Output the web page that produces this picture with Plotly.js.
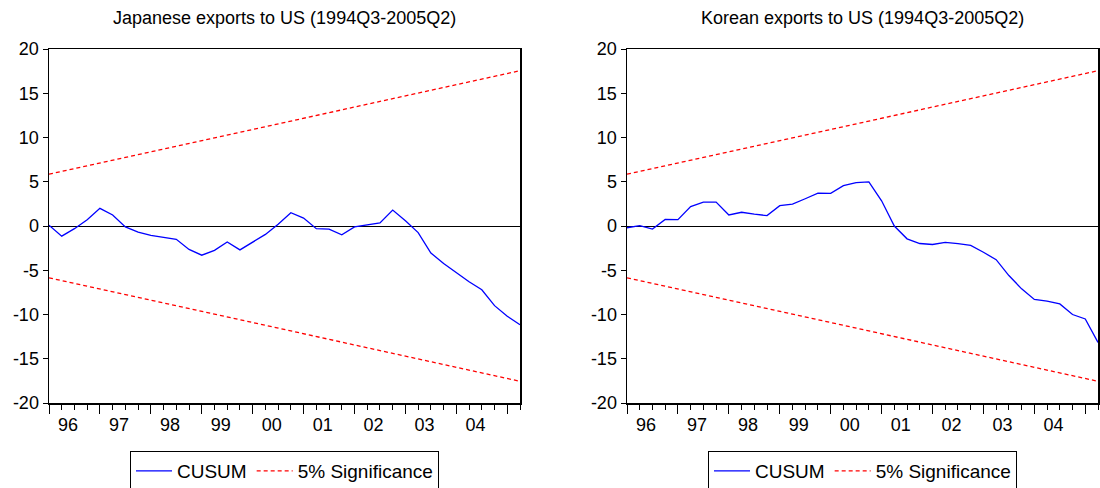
<!DOCTYPE html>
<html>
<head>
<meta charset="utf-8">
<script src="https://cdn.plot.ly/plotly-3.0.1.min.js"></script>
<style>html,body{margin:0;padding:0;background:#fff;}</style>
</head>
<body>
<div id="chart" style="width:1100px;height:488px;"></div>
<script>
// ---- data ----
const quarters = [
  '1996Q1','1996Q2','1996Q3','1996Q4','1997Q1','1997Q2','1997Q3','1997Q4',
  '1998Q1','1998Q2','1998Q3','1998Q4','1999Q1','1999Q2','1999Q3','1999Q4',
  '2000Q1','2000Q2','2000Q3','2000Q4','2001Q1','2001Q2','2001Q3','2001Q4',
  '2002Q1','2002Q2','2002Q3','2002Q4','2003Q1','2003Q2','2003Q3','2003Q4',
  '2004Q1','2004Q2','2004Q3','2004Q4','2005Q1','2005Q2'
];
const yearLabels = ['96','97','98','99','00','01','02','03','04'];
const jpCusum = [0.1, -1.15, -0.3, 0.7, 2.0, 1.25, -0.1, -0.7, -1.05, -1.3,
  -1.5, -2.65, -3.3, -2.75, -1.8, -2.7, -1.8, -0.95, 0.2, 1.5,
  0.9, -0.3, -0.35, -1.0, -0.1, 0.1, 0.35, 1.8, 0.6, -0.75,
  -3.05, -4.25, -5.3, -6.3, -7.2, -9.0, -10.2, -11.15];
const krCusum = [-0.2, 0.05, -0.35, 0.75, 0.72, 2.2, 2.7, 2.7, 1.25, 1.55,
  1.33, 1.18, 2.3, 2.47, 3.08, 3.72, 3.69, 4.56, 4.9, 4.98,
  2.85, 0.0, -1.45, -1.98, -2.09, -1.86, -2.0, -2.2, -2.97, -3.8,
  -5.6, -7.1, -8.3, -8.48, -8.8, -10.0, -10.5, -13.15];
const sigUpper = [5.85, 17.55];   // at first and last quarter
const sigLower = [-5.85, -17.55];
const yTicks = [20, 15, 10, 5, 0, -5, -10, -15, -20];
const jpTitle = 'Japanese exports to US (1994Q3-2005Q2)';
const krTitle = 'Korean exports to US (1994Q3-2005Q2)';

// ---- derived positions ----
const xi = quarters.map((_, i) => i);
const last = quarters.length - 1;
const yearStarts = xi.filter(i => quarters[i].endsWith('Q1'));
const labelPos = yearStarts.slice(0, yearLabels.length).map(i => i + 1.5);

const FONT = 'Liberation Sans, Arial, sans-serif';
const BLUE = '#0000ff', RED = '#ff0000';

function panel(cusum, xa, ya, leg) {
  return [
    {x: xi, y: cusum, type: 'scatter', mode: 'lines', name: 'CUSUM',
     line: {color: BLUE, width: 1.3}, xaxis: xa, yaxis: ya, legend: leg, hoverinfo: 'skip'},
    {x: [0, last], y: sigUpper, type: 'scatter', mode: 'lines', name: '5% Significance',
     line: {color: RED, width: 1.3, dash: '4px,3px'}, xaxis: xa, yaxis: ya, legend: leg,
     legendgroup: leg + 'sig', hoverinfo: 'skip'},
    {x: [0, last], y: sigLower, type: 'scatter', mode: 'lines', name: '5% Significance',
     line: {color: RED, width: 1.3, dash: '4px,3px'}, xaxis: xa, yaxis: ya, legend: leg,
     legendgroup: leg + 'sig', showlegend: false, hoverinfo: 'skip'}
  ];
}

const traces = [].concat(
  panel(jpCusum, 'x', 'y', 'legend'),
  panel(krCusum, 'x2', 'y2', 'legend2'),
  [{x: [], y: [], xaxis: 'x3', yaxis: 'y', showlegend: false},
   {x: [], y: [], xaxis: 'x4', yaxis: 'y2', showlegend: false}]
);

function xMain(domain, anchor) {
  return {
    domain: domain, anchor: anchor, range: [0, last], fixedrange: true,
    tickmode: 'array', tickvals: yearStarts, showticklabels: false,
    ticks: 'outside', ticklen: 9, tickwidth: 1, tickcolor: '#000',
    showline: true, linecolor: '#000', linewidth: 1.5, mirror: true,
    showgrid: false, zeroline: false,
    minor: {tickmode: 'array', tickvals: xi, ticks: 'outside', ticklen: 5,
            tickwidth: 1, tickcolor: '#000', showgrid: false}
  };
}
function xLabels(base, anchor) {
  return {
    overlaying: base, anchor: anchor, range: [0, last], fixedrange: true,
    tickmode: 'array', tickvals: labelPos, ticktext: yearLabels,
    ticks: 'outside', ticklen: 5, tickcolor: 'rgba(0,0,0,0)',
    tickfont: {family: FONT, size: 18, color: '#000'},
    showline: false, showgrid: false, zeroline: false
  };
}
function yAx(anchor) {
  return {
    anchor: anchor, range: [-20, 20], fixedrange: true,
    tickmode: 'array', tickvals: yTicks, ticktext: yTicks.map(String),
    ticks: 'outside', ticklen: 5, tickwidth: 1, tickcolor: '#000',
    tickfont: {family: FONT, size: 18, color: '#000'},
    showline: true, linecolor: '#000', linewidth: 1.5, mirror: true,
    showgrid: false, zeroline: true, zerolinecolor: '#000', zerolinewidth: 1
  };
}

const d1 = [0, 471 / 1049];
const d2 = [578 / 1049, 1];

function legendCfg(xc) {
  return {
    orientation: 'h', xref: 'container', yref: 'container',
    x: xc, xanchor: 'center', y: 1 - 451 / 488, yanchor: 'top',
    bordercolor: '#000', borderwidth: 1, bgcolor: '#fff',
    font: {family: FONT, size: 19, color: '#000'},
    traceorder: 'normal', itemwidth: 36
  };
}

const layout = {
  width: 1100, height: 488,
  margin: {l: 49, r: 2, t: 49, b: 85},
  paper_bgcolor: '#fff', plot_bgcolor: '#fff',
  font: {family: FONT, size: 18, color: '#000'},
  xaxis: xMain(d1, 'y'),
  xaxis2: xMain(d2, 'y2'),
  xaxis3: xLabels('x', 'y'),
  xaxis4: xLabels('x2', 'y2'),
  yaxis: yAx('x'),
  yaxis2: yAx('x2'),
  legend: legendCfg(284.5 / 1100),
  legend2: legendCfg(862.5 / 1100),
  annotations: [
    {text: jpTitle, xref: 'paper', yref: 'paper', x: (d1[0] + d1[1]) / 2, y: 1 + 31 / 354,
     xanchor: 'center', yanchor: 'middle', showarrow: false,
     font: {family: FONT, size: 18, color: '#000'}},
    {text: krTitle, xref: 'paper', yref: 'paper', x: (d2[0] + d2[1]) / 2, y: 1 + 31 / 354,
     xanchor: 'center', yanchor: 'middle', showarrow: false,
     font: {family: FONT, size: 18, color: '#000'}}
  ],
  showlegend: true,
  hovermode: false
};

Plotly.newPlot('chart', traces, layout, {displayModeBar: false, staticPlot: true});
</script>
</body>
</html>
